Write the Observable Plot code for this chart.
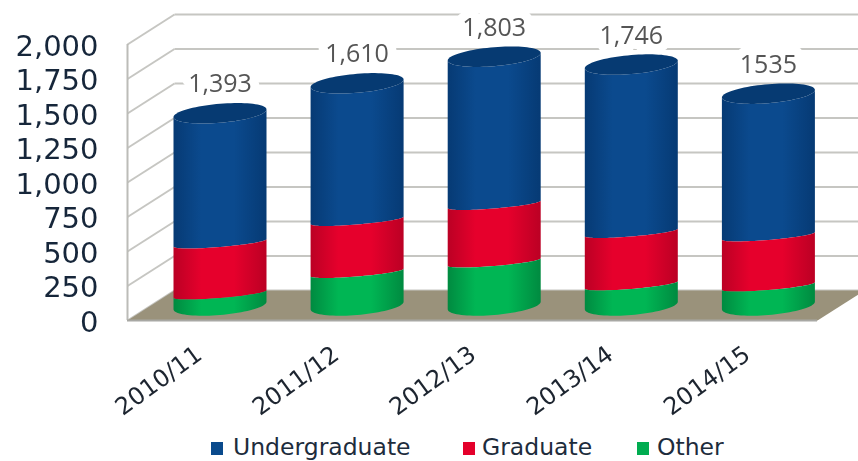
<!DOCTYPE html>
<html>
<head>
<meta charset="utf-8">
<script src="https://cdn.jsdelivr.net/npm/d3@7"></script>
<script src="https://cdn.jsdelivr.net/npm/@observablehq/plot@0.6"></script>
<style>
html,body{margin:0;padding:0;background:#fff;overflow:hidden;height:461px}
#chart svg{display:block;overflow:hidden}
#legend{position:relative;height:31px;font:23.5px "DejaVu Sans",sans-serif;color:#1d2c3c}
#legend i{position:absolute;display:block;top:12px;width:12px;height:13px}
#legend span{position:absolute;top:6px;line-height:22px;white-space:nowrap}
</style>
</head>
<body>
<div id="chart"></div>
<div id="legend"></div>
<script>
const categories = ["2010/11","2011/12","2012/13","2013/14","2014/15"];
const other         = [83, 239, 315, 149, 141];
const graduate      = [370, 377, 417, 380, 363];
const undergraduate = [940, 994, 1071, 1217, 1031];
const totalLabels   = ["1,393","1,610","1,803","1,746","1535"];
const yTicks = [0,250,500,750,1000,1250,1500,1750,2000];
const seriesNames = ["Undergraduate","Graduate","Other"];
const seriesColors = ["#0a4a8c","#e4002b","#00ac50"];

// Oblique projection, expressed in scale units (category index, value)
const H = 430, mT = 44, mB = H - 320, W = 858;
const pxY = 2000 / (320 - 44);          // value units per pixel
const pxX = 1 / 137.1;                  // category units per pixel
const xMin = -(219.5 - 127) * pxX, xMax = (817 - 219.5) * pxX;
const depthX = 47 * pxX, depthY = 30 * pxY, base = 15 * pxY;
const rx = 46.5 * pxX, tilt = 3.8 * pxY, capB = 9.5 * pxY, seamB = 4 * pxY;

const angles = d3.range(0, 41).map(k => Math.PI * k / 40);
const arc = (i, v, b) => angles.map(t => ({
  x: i + rx * Math.cos(t),
  y: v + base + tilt * Math.cos(t) - b * Math.sin(t)
}));
function segments(lower, upper, bLow, bUp) {
  return categories.flatMap((_, i) => [
    ...arc(i, upper[i], bUp),
    ...arc(i, lower[i], bLow).reverse()
  ].map(p => ({...p, i})));
}
const zero = categories.map(() => 0);
const s1 = other;
const s2 = s1.map((v, i) => v + graduate[i]);
const s3 = s2.map((v, i) => v + undergraduate[i]);
const caps = categories.flatMap((_, i) => d3.range(0, 81).map(k => {
  const t = 2 * Math.PI * k / 80;
  return {i, x: i + rx * Math.cos(t), y: s3[i] + base + tilt * Math.cos(t) - capB * Math.sin(t)};
}));
const floor = [
  {x: xMin, y: 0}, {x: xMax, y: 0},
  {x: xMax + depthX, y: depthY}, {x: xMin + depthX, y: depthY}
];

function gradient(id, edge, mid) {
  const ns = "http://www.w3.org/2000/svg";
  const g = document.createElementNS(ns, "linearGradient");
  g.setAttribute("id", id);
  [[0, edge], [.3, mid], [.65, mid], [1, edge]].forEach(([o, c]) => {
    const s = document.createElementNS(ns, "stop");
    s.setAttribute("offset", o);
    s.setAttribute("stop-color", c);
    g.appendChild(s);
  });
  return g;
}
const defsMark = () => {
  const d = document.createElementNS("http://www.w3.org/2000/svg", "defs");
  d.appendChild(gradient("gBlue", "#063a74", "#0b4a8e"));
  d.appendChild(gradient("gRed", "#bb0024", "#e6002c"));
  d.appendChild(gradient("gGreen", "#008a40", "#00b654"));
  return d;
};

const gridColor = "#c6c6c2";
const chart = Plot.plot({
  width: W, height: H,
  marginLeft: 127, marginRight: W - 817, marginTop: mT, marginBottom: mB,
  x: {domain: [xMin, xMax], axis: null},
  y: {domain: [0, 2000], axis: null},
  style: {background: "#fff", overflow: "hidden"},
  marks: [
    defsMark,
    // walls
    Plot.link(yTicks, {x1: xMin + depthX, y1: d => d + depthY, x2: xMax + depthX, y2: d => d + depthY, stroke: gridColor, strokeWidth: 2}),
    Plot.link(yTicks, {x1: xMin, y1: d => d, x2: xMin + depthX, y2: d => d + depthY, stroke: gridColor, strokeWidth: 2}),
    Plot.ruleX([xMin], {y1: 0, y2: 2000, stroke: "#bcbcb8", strokeWidth: 2}),
    // floor
    Plot.line(floor, {x: "x", y: "y", fill: "#9a927b", stroke: "none"}),
    Plot.ruleY([0], {x1: xMin, x2: xMax, stroke: "#a8a8a4", strokeWidth: 2}),
    // totals
    Plot.text(categories, {
      x: (_, i) => i, y: (_, i) => s3[i] + base,
      text: (_, i) => totalLabels[i], dy: -29, dx: 0,
      fontSize: 25, fontFamily: "Open Sans", fill: "#555",
      stroke: "#fff", strokeWidth: 18
    }),
    // cylinders
    Plot.line(segments(s2, s3, seamB, capB), {x: "x", y: "y", z: "i", fill: "url(#gBlue)", stroke: "none", curve: "linear"}),
    Plot.line(segments(s1, s2, seamB, seamB), {x: "x", y: "y", z: "i", fill: "url(#gRed)", stroke: "none", curve: "linear"}),
    Plot.line(segments(zero, s1, capB, seamB), {x: "x", y: "y", z: "i", fill: "url(#gGreen)", stroke: "none", curve: "linear"}),
    Plot.line(caps, {x: "x", y: "y", z: "i", fill: "#063a72", stroke: "none", curve: "linear"}),
    // axes
    Plot.axisY(yTicks, {
      anchor: "left", tickSize: 0, tickPadding: 29, tickFormat: d3.format(","),
      fontSize: 29, fontFamily: "DejaVu Sans", fontWeight: 500, fill: "#16263a", label: null, dy: 2
    }),
    Plot.axisX(categories.map((_, i) => i), {
      anchor: "bottom", tickSize: 0, tickPadding: 0, tickRotate: -36,
      tickFormat: i => categories[i], label: null,
      fontSize: 24, fontFamily: "DejaVu Sans", fill: "#1d2530", dx: -21, dy: 31
    })
  ]
});
chart.style.filter = "blur(0.5px)";
document.getElementById("chart").appendChild(chart);

const swatchX = [211, 463, 637], labelX = [233, 482, 657];
const legend = document.getElementById("legend");
seriesNames.forEach((n, k) => {
  const sw = document.createElement("i");
  sw.style.left = swatchX[k] + "px";
  sw.style.background = seriesColors[k];
  const tx = document.createElement("span");
  tx.style.left = labelX[k] + "px";
  tx.textContent = n;
  legend.appendChild(sw);
  legend.appendChild(tx);
});
</script>
</body>
</html>
